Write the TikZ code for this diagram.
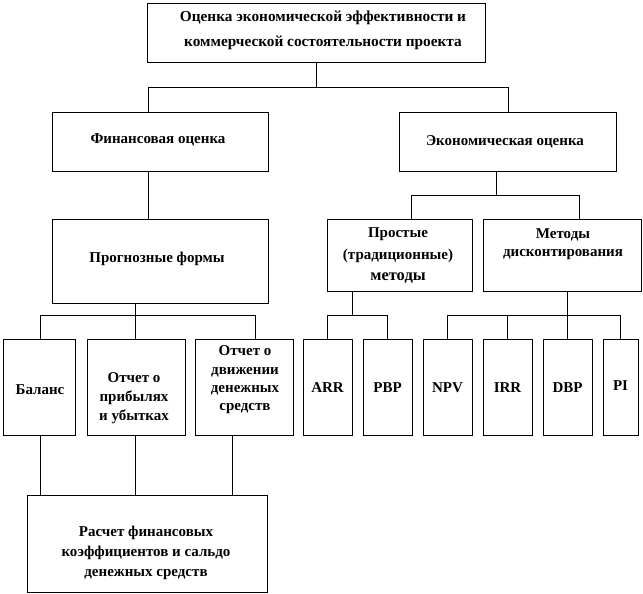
\documentclass[tikz,border=0pt]{standalone}
\usepackage{fontspec}
\setmainfont{Liberation Serif}
\begin{document}
\begin{tikzpicture}[x=1pt,y=-1pt,
  box/.style={draw=black, line width=0.8pt, rectangle, inner sep=0pt},
  lbl/.style={font=\bfseries\fontsize{15}{19}\selectfont, align=center, inner sep=0pt, text=black},
  conn/.style={draw=black, line width=0.8pt}]
\useasboundingbox (0,0) rectangle (643,594);
\fill[white] (0,0) rectangle (643,594);
% boxes
\node[box, minimum width=338pt, minimum height=59pt] (top) at (316,32.5) {};
\node[box, minimum width=216pt, minimum height=59pt] (fin) at (160,141.5) {};
\node[box, minimum width=217pt, minimum height=59pt] (eco) at (507.5,141.5) {};
\node[box, minimum width=216pt, minimum height=84pt] (prog) at (160,261) {};
\node[box, minimum width=145pt, minimum height=72pt] (simple) at (399.5,255) {};
\node[box, minimum width=158pt, minimum height=72pt] (disc) at (562,255) {};
\node[box, minimum width=72pt, minimum height=96pt] (bal) at (39,387) {};
\node[box, minimum width=98pt, minimum height=96pt] (pl) at (136,387) {};
\node[box, minimum width=98pt, minimum height=96pt] (cf) at (244,387) {};
\node[box, minimum width=49pt, minimum height=96pt] (arr) at (327.5,387) {};
\node[box, minimum width=49pt, minimum height=96pt] (pbp) at (387.5,387) {};
\node[box, minimum width=49pt, minimum height=96pt] (npv) at (447.5,387) {};
\node[box, minimum width=49pt, minimum height=96pt] (irr) at (507.5,387) {};
\node[box, minimum width=49pt, minimum height=96pt] (dbp) at (567.5,387) {};
\node[box, minimum width=35pt, minimum height=96pt] (pi) at (620.5,387) {};
\node[box, minimum width=240pt, minimum height=97pt] (calc) at (147,543.5) {};
% texts
\node[lbl, font=\bfseries\fontsize{15.3}{25}\selectfont] (ttop) at (323,30) {Оценка экономической эффективности и\\коммерческой состоятельности проекта};
\node[lbl] (tfin) at (158,140) {Финансовая оценка};
\node[lbl] (teco) at (505,142) {Экономическая оценка};
\node[lbl] (tprog) at (157,259) {Прогнозные формы};
\node[lbl, font=\bfseries\fontsize{15}{21.5}\selectfont] (tsimple) at (398,256) {Простые\\(традиционные)\\{\fontsize{16.5}{21.5}\selectfont методы}};
\node[lbl, font=\bfseries\fontsize{15}{18}\selectfont] (tdisc) at (563,244) {Методы\\дисконтирования};
\node[lbl] (tbal) at (40,390) {Баланс};
\node[lbl, font=\bfseries\fontsize{15}{19}\selectfont] (tpl) at (134,398) {Отчет о\\прибылях\\и убытках};
\node[lbl, font=\bfseries\fontsize{15}{18.3}\selectfont] (tcf) at (245,380) {Отчет о\\движении\\денежных\\средств};
\node[lbl] (tarr) at (327.5,388) {ARR};
\node[lbl] (tpbp) at (387.5,388) {PBP};
\node[lbl] (tnpv) at (447.5,388) {NPV};
\node[lbl] (tirr) at (507.5,388) {IRR};
\node[lbl] (tdbp) at (567.5,388) {DBP};
\node[lbl] (tpi) at (620.5,386) {PI};
\node[lbl, font=\bfseries\fontsize{15}{20}\selectfont] (tcalc) at (146,553) {Расчет финансовых\\коэффициентов и сальдо\\денежных средств};
% junctions
\coordinate (j1) at (316,87);
\coordinate (j2) at (496,195);
\coordinate (j3) at (135,315);
\coordinate (j4) at (352,315);
\coordinate (j5) at (567.5,315);
% connectors
\draw[conn] (top.south) -- (j1);
\draw[conn] (j1) -| ([xshift=-12pt]fin.north);
\draw[conn] (j1) -| ([xshift=0.5pt]eco.north);
\draw[conn] ([xshift=-12pt]fin.south) -- ([xshift=-12pt]prog.north);
\draw[conn] ([xshift=-11.5pt]eco.south) -- (j2);
\draw[conn] (j2) -| ([xshift=11.5pt]simple.north);
\draw[conn] (j2) -| ([xshift=17pt]disc.north);
\draw[conn] ([xshift=-25pt]prog.south) -- (j3);
\draw[conn] (j3) -| ([xshift=1pt]bal.north);
\draw[conn] (j3) -| ([xshift=-1pt]pl.north);
\draw[conn] (j3) -| ([xshift=11pt]cf.north);
\draw[conn] ([xshift=-47.5pt]simple.south) -- (j4);
\draw[conn] (j4) -| (arr.north);
\draw[conn] (j4) -| (pbp.north);
\draw[conn] ([xshift=5.5pt]disc.south) -- (j5);
\draw[conn] (j5) -| (npv.north);
\draw[conn] (j5) -| (irr.north);
\draw[conn] (j5) -| (dbp.north);
\draw[conn] (j5) -| (pi.north);
\draw[conn] ([xshift=1pt]bal.south) -- ([xshift=1pt]bal.south |- calc.north);
\draw[conn] ([xshift=-1pt]pl.south) -- ([xshift=-1pt]pl.south |- calc.north);
\draw[conn] ([xshift=-12pt]cf.south) -- ([xshift=-12pt]cf.south |- calc.north);
\end{tikzpicture}
\end{document}
